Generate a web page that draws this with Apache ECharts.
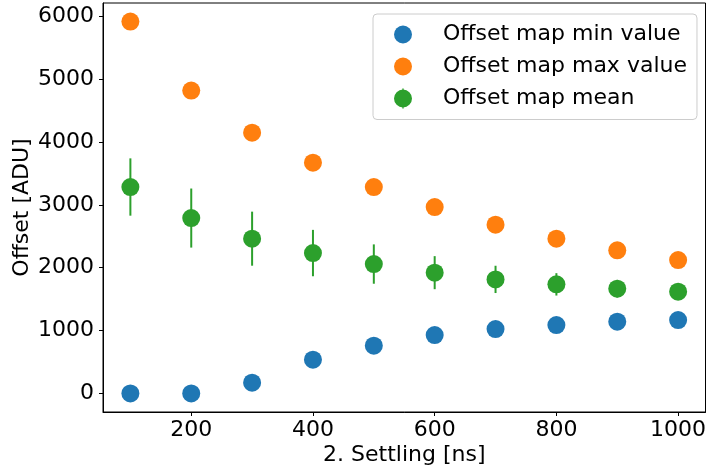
<!DOCTYPE html>
<html>
<head>
<meta charset="utf-8">
<script src="https://cdn.jsdelivr.net/npm/echarts@6/dist/echarts.min.js"></script>
<style>
  html, body { margin: 0; padding: 0; background: #ffffff; }
  #chart { width: 708px; height: 472px; }
</style>
</head>
<body>
<div id="chart"></div>
<script>
// Settling time (ns) vs offset statistics (ADU)
const settling = [100, 200, 300, 400, 500, 600, 700, 800, 900, 1000];
const minValues = [0, 0, 170, 536, 759, 928, 1023, 1087, 1141, 1167];
const maxValues = [5916, 4818, 4149, 3672, 3283, 2965, 2685, 2462, 2276, 2122];
const meanValues = [3284, 2790, 2462, 2233, 2058, 1921, 1814, 1735, 1666, 1619];
const meanErrors = [456, 470, 430, 369, 313, 263, 217, 178, 140, 100];
const xTicks = [200, 400, 600, 800, 1000];
const yTicks = [0, 1000, 2000, 3000, 4000, 5000, 6000];

const FONT = 'DejaVu Sans';
const FS = 22;
const BLUE = '#1f77b4', ORANGE = '#ff7f0e', GREEN = '#2ca02c';

const pairs = (xs, ys) => xs.map((x, i) => [x, ys[i]]);
const errData = settling.map((x, i) => [x, meanValues[i] - meanErrors[i], meanValues[i] + meanErrors[i]]);
const plain = v => String(v);

const chart = echarts.init(document.getElementById('chart'), null, { renderer: 'canvas' });

chart.setOption({
  animation: false,
  backgroundColor: '#ffffff',
  textStyle: { fontFamily: FONT },
  grid: {
    left: 103, top: 3, right: 2.5, bottom: 60,
    containLabel: false, outerBoundsMode: 'none',
    show: true, borderColor: '#000000', borderWidth: 1, backgroundColor: 'transparent'
  },
  legend: {
    orient: 'vertical',
    left: 373, top: 14,
    padding: [9.5, 10, 10, 21],
    itemWidth: 18, itemHeight: 23, itemGap: 10,
    backgroundColor: 'rgba(255,255,255,0.8)',
    borderColor: '#cccccc', borderWidth: 1, borderRadius: 4,
    textStyle: { fontFamily: FONT, fontSize: FS, color: '#000000', padding: [0, 0, 0, 26] },
    data: [
      { name: 'Offset map min value', icon: 'circle' },
      { name: 'Offset map max value', icon: 'circle' },
      { name: 'Offset map mean', icon: 'path://M0,11.5A9,9,0,1,1,18,11.5A9,9,0,1,1,0,11.5ZM8.3,1.5L9.7,1.5L9.7,21.5L8.3,21.5Z' }
    ]
  },
  xAxis: {
    type: 'value', min: 55, max: 1045,
    name: '2. Settling [ns]', nameLocation: 'middle', nameGap: 32, nameMoveOverlap: false,
    nameTextStyle: { fontFamily: FONT, fontSize: FS, color: '#000000' },
    axisLine: { show: true, onZero: false, lineStyle: { color: '#000000', width: 1 } },
    axisTick: { show: true, length: 4, lineStyle: { color: '#000000' }, customValues: xTicks },
    axisLabel: { fontFamily: FONT, fontSize: FS, color: '#000000', margin: 7, customValues: xTicks, formatter: plain },
    splitLine: { show: false }
  },
  yAxis: {
    type: 'value', min: -296, max: 6212,
    name: 'Offset [ADU]', nameLocation: 'middle', nameGap: 70, nameMoveOverlap: false,
    nameTextStyle: { fontFamily: FONT, fontSize: FS, color: '#000000' },
    axisLine: { show: true, onZero: false, lineStyle: { color: '#000000', width: 1 } },
    axisTick: { show: true, length: 4, lineStyle: { color: '#000000' }, customValues: yTicks },
    axisLabel: { fontFamily: FONT, fontSize: FS, color: '#000000', margin: 9, customValues: yTicks, formatter: plain },
    splitLine: { show: false }
  },
  series: [
    {
      name: 'Offset map min value', type: 'scatter', symbol: 'circle', symbolSize: 18,
      itemStyle: { color: BLUE, opacity: 1 }, data: pairs(settling, minValues), z: 3
    },
    {
      name: 'Offset map max value', type: 'scatter', symbol: 'circle', symbolSize: 18,
      itemStyle: { color: ORANGE, opacity: 1 }, data: pairs(settling, maxValues), z: 3
    },
    {
      name: 'mean error', type: 'custom', z: 2,
      encode: { x: 0, y: [1, 2] },
      renderItem: (params, api) => {
        const x = api.value(0);
        const p1 = api.coord([x, api.value(1)]);
        const p2 = api.coord([x, api.value(2)]);
        return {
          type: 'line',
          shape: { x1: p1[0], y1: p1[1], x2: p2[0], y2: p2[1] },
          style: { stroke: GREEN, lineWidth: 2 }
        };
      },
      data: errData
    },
    {
      name: 'Offset map mean', type: 'scatter', symbol: 'circle', symbolSize: 18,
      itemStyle: { color: GREEN, opacity: 1 }, data: pairs(settling, meanValues), z: 4
    }
  ]
});
</script>
</body>
</html>
